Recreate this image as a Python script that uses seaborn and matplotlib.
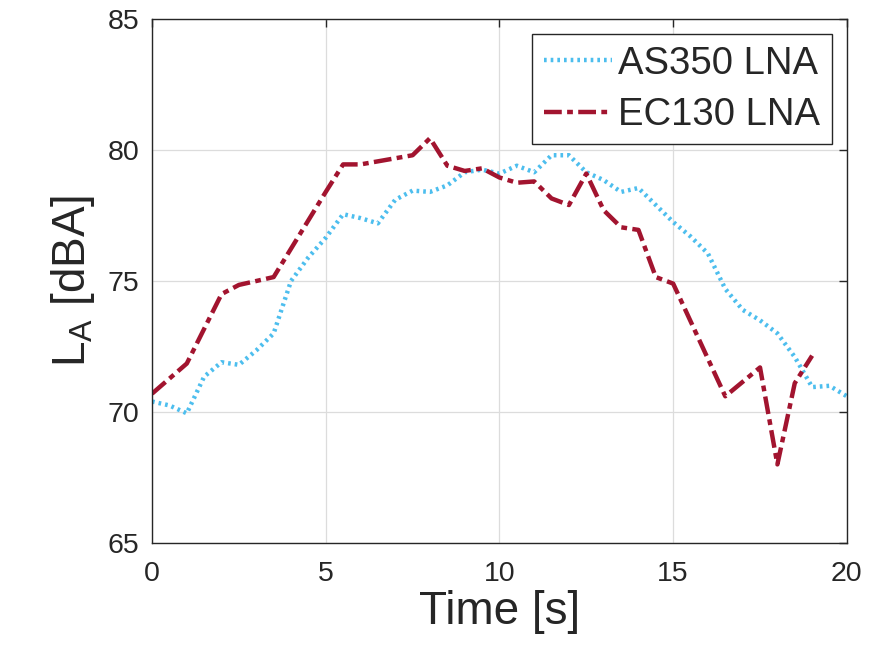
import matplotlib
matplotlib.use("Agg")
import matplotlib.pyplot as plt
import seaborn as sns
import pandas as pd

# AS350 LNA series
as350_time = [0, 0.5, 1, 1.5, 2, 2.5, 3, 3.5, 4, 4.5, 5, 5.5, 6, 6.5, 7, 7.5, 8, 8.5,
              9, 9.5, 10, 10.5, 11, 11.5, 12, 12.5, 13, 13.5, 14, 14.5, 15, 15.5, 16,
              16.5, 17, 17.5, 18, 18.5, 19, 19.5, 20]
as350_level = [70.4, 70.25, 69.95, 71.35, 71.9, 71.8, 72.35, 73.0, 75.0, 75.9, 76.65,
               77.55, 77.4, 77.2, 78.1, 78.45, 78.4, 78.65, 79.15, 79.25, 79.1, 79.4,
               79.15, 79.8, 79.8, 79.15, 78.85, 78.4, 78.55, 77.9, 77.25, 76.7, 76.05,
               74.7, 73.9, 73.5, 73.0, 72.1, 70.95, 71.0, 70.6]

# EC130 LNA series
ec130_time = [0, 1, 2, 2.5, 3.5, 5, 5.5, 6, 7.5, 8, 8.5, 9, 9.5, 10, 10.5, 11, 11.5, 12,
              12.5, 13, 13.5, 14, 14.5, 15, 16.5, 17.5, 18, 18.5, 19]
ec130_level = [70.7, 71.85, 74.5, 74.85, 75.15, 78.4, 79.45, 79.45, 79.8, 80.45, 79.4,
               79.2, 79.3, 78.95, 78.75, 78.8, 78.15, 77.9, 79.1, 77.7, 77.05, 76.95,
               75.15, 74.9, 70.6, 71.7, 68.0, 71.1, 72.15]

series_names = ["AS350 LNA", "EC130 LNA"]
x_ticks = [0, 5, 10, 15, 20]
y_ticks = [65, 70, 75, 80, 85]

df = pd.concat([
    pd.DataFrame({"t": as350_time, "L": as350_level, "s": series_names[0]}),
    pd.DataFrame({"t": ec130_time, "L": ec130_level, "s": series_names[1]}),
], ignore_index=True)

sns.set_theme(style="whitegrid")
plt.rcParams["font.family"] = ["Liberation Sans", "DejaVu Sans"]

fig = plt.figure(figsize=(8.84, 6.55), dpi=100)
ax = fig.add_axes([0.172, 0.171, 0.786, 0.800])

palette = {series_names[0]: "#4DBEEE", series_names[1]: "#A2142F"}
sns.lineplot(data=df, x="t", y="L", hue="s", palette=palette, ax=ax,
             sort=False, estimator=None, linewidth=3.2, legend=False)
lines = ax.get_lines()
lines[0].set_linestyle((0, (0.6, 0.9)))
lines[1].set_linestyle((0, (4.0, 1.2, 1.3, 1.2)))

ax.set_xlim(0, 20)
ax.set_ylim(65, 85)
ax.set_xticks(x_ticks)
ax.set_yticks(y_ticks)
ax.set_xticklabels([str(v) for v in x_ticks])
ax.set_yticklabels([str(v) for v in y_ticks])
ax.tick_params(axis="both", which="both", direction="in", length=6, width=1,
               colors="#262626", labelsize=20.5, top=True, right=True,
               labelcolor="#262626")
ax.tick_params(axis="x", pad=13)
ax.tick_params(axis="y", pad=9)
ax.grid(True, color="#dcdcdc", linewidth=0.9)
for s in ax.spines.values():
    s.set_visible(True)
    s.set_color("#262626")
    s.set_linewidth(1.0)
ax.set_facecolor("white")

ax.set_xlabel("Time [s]", fontsize=33, color="#262626", labelpad=2)
ax.set_ylabel("L$_\\mathregular{A}$ [dBA]", fontsize=33, color="#262626", labelpad=8)

leg = ax.legend(lines, series_names, loc="upper right", fontsize=27.5,
                frameon=True, fancybox=False, handlelength=1.8,
                handletextpad=0.15, borderpad=0.3, labelspacing=0.4,
                borderaxespad=0.4)
leg.get_frame().set_edgecolor("#262626")
leg.get_frame().set_linewidth(1.0)
leg.get_frame().set_alpha(1.0)

fig.savefig("out.png", dpi=100, facecolor="white")
